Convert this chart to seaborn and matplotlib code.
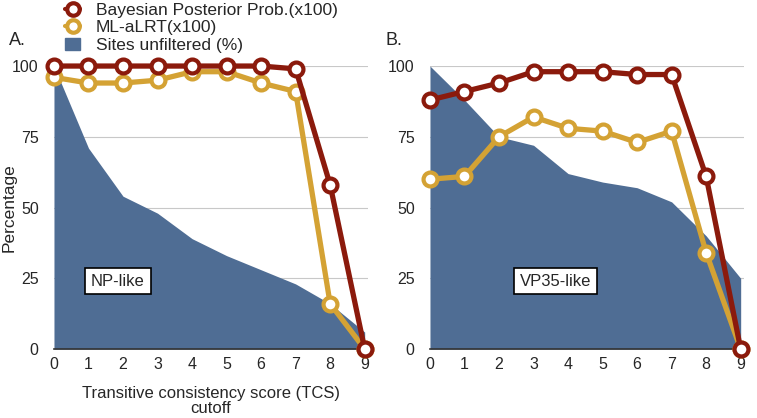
import seaborn as sns
import pandas as pd
import matplotlib.pyplot as plt
from matplotlib.patches import Patch
from matplotlib.lines import Line2D

tcs = [0, 1, 2, 3, 4, 5, 6, 7, 8, 9]

# panel A (NP-like)
np_bayes = [100, 100, 100, 100, 100, 100, 100, 99, 58, 0]
np_ml = [96, 94, 94, 95, 98, 98, 94, 91, 16, 0]
np_sites = [100, 71, 54, 48, 39, 33, 28, 23, 16, 6]

# panel B (VP35-like)
vp_bayes = [88, 91, 94, 98, 98, 98, 97, 97, 61, 0]
vp_ml = [60, 61, 75, 82, 78, 77, 73, 77, 34, 0]
vp_sites = [100, 88, 75, 72, 62, 59, 57, 52, 40, 25]

bayes_lbl = 'Bayesian Posterior Prob.(x100)'
ml_lbl = 'ML-aLRT(x100)'
sites_lbl = 'Sites unfiltered (%)'

c_bayes = '#8b1a0c'
c_ml = '#d4a234'
c_area = '#4f6d94'

sns.set_style('white')
plt.rcParams['font.family'] = ['Liberation Sans', 'DejaVu Sans']


def draw_panel(ax, bayes, ml, sites, name, box_x):
    ax.fill_between(tcs, sites, 0, color=c_area, lw=0, zorder=1)
    df = pd.DataFrame({'TCS': tcs * 2,
                       'value': bayes + ml,
                       'series': [bayes_lbl] * 10 + [ml_lbl] * 10})
    sns.lineplot(data=df, x='TCS', y='value', hue='series',
                 hue_order=[ml_lbl, bayes_lbl],
                 palette={bayes_lbl: c_bayes, ml_lbl: c_ml},
                 linewidth=3.8, marker='o', markersize=10,
                 markerfacecolor='white', markeredgewidth=3,
                 legend=False, ax=ax, zorder=3)
    for ln, col in zip(ax.lines, [c_ml, c_bayes]):
        ln.set_markeredgecolor(col)
        ln.set_clip_on(False)
    ax.set_xlim(0, 9.1)
    ax.set_ylim(0, 100)
    ax.set_xticks(tcs)
    ax.set_yticks([0, 25, 50, 75, 100])
    ax.yaxis.grid(True, color='#c8c8c8', lw=0.8)
    ax.set_axisbelow(True)
    for s in ['left', 'right', 'top']:
        ax.spines[s].set_visible(False)
    ax.spines['bottom'].set_color('#333333')
    ax.spines['bottom'].set_linewidth(1.2)
    ax.spines['bottom'].set_zorder(2)
    ax.tick_params(axis='x', length=0, labelsize=11.5, pad=6)
    ax.tick_params(axis='y', length=0, labelsize=11.5, pad=11)
    ax.set_xlabel('')
    ax.set_ylabel('')
    ax.text(box_x, 24, name, fontsize=12, ha='center', va='center', zorder=4,
            bbox=dict(boxstyle='square,pad=0.35', fc='white', ec='black', lw=1.2))


fig = plt.figure(figsize=(7.57, 4.18), dpi=100)
ax1 = fig.add_axes([0.0713, 0.165, 0.415, 0.677])
ax2 = fig.add_axes([0.568, 0.165, 0.415, 0.677])

draw_panel(ax1, np_bayes, np_ml, np_sites, 'NP-like', 1.85)
draw_panel(ax2, vp_bayes, vp_ml, vp_sites, 'VP35-like', 3.63)

ax1.set_ylabel('Percentage', fontsize=12.5)
ax1.yaxis.set_label_coords(-0.118, 0.5)
ax1.set_xlabel('Transitive consistency score (TCS)\ncutoff', fontsize=12,
               labelpad=10, linespacing=1.0)

fig.text(0.012, 0.904, 'A.', fontsize=13, va='center')
fig.text(0.509, 0.904, 'B.', fontsize=13, va='center')

handles = [
    Line2D([], [], color=c_bayes, lw=3, marker='o', markersize=9,
           markerfacecolor='white', markeredgewidth=3),
    Line2D([], [], color=c_ml, lw=3, marker='o', markersize=9,
           markerfacecolor='white', markeredgewidth=3),
    Patch(color=c_area),
]
fig.legend(handles, [bayes_lbl, ml_lbl, sites_lbl], loc='upper left',
           bbox_to_anchor=(0.065, 1.03), frameon=False, fontsize=12.5,
           handlelength=0.9, handletextpad=0.9, labelspacing=0.12)

fig.savefig('out.png', dpi=100)
